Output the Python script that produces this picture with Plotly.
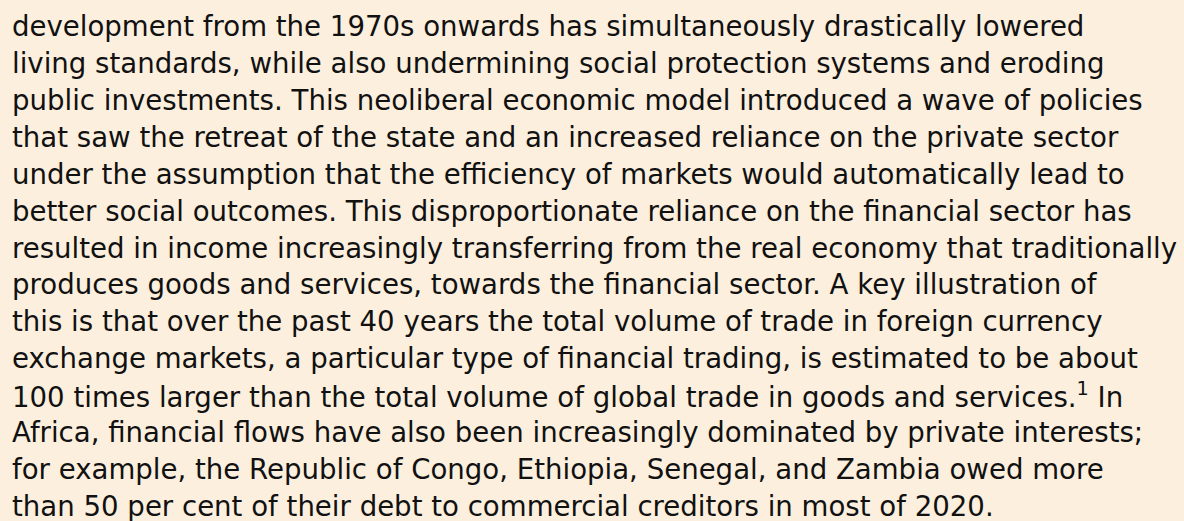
import plotly.graph_objects as go

lines = [
    "development from the 1970s onwards has simultaneously drastically lowered",
    "living standards, while also undermining social protection systems and eroding",
    "public investments. This neoliberal economic model introduced a wave of policies",
    "that saw the retreat of the state and an increased reliance on the private sector",
    "under the assumption that the efficiency of markets would automatically lead to",
    "better social outcomes. This disproportionate reliance on the financial sector has",
    "resulted in income increasingly transferring from the real economy that traditionally",
    "produces goods and services, towards the financial sector. A key illustration of",
    "this is that over the past 40 years the total volume of trade in foreign currency",
    "exchange markets, a particular type of financial trading, is estimated to be about",
    "100 times larger than the total volume of global trade in goods and services.<sup>1</sup> In",
    "Africa, financial flows have also been increasingly dominated by private interests;",
    "for example, the Republic of Congo, Ethiopia, Senegal, and Zambia owed more",
    "than 50 per cent of their debt to commercial creditors in most of 2020.",
]

W, H = 1184, 521
fig = go.Figure()
top, step = 27, 36.85
for i, t in enumerate(lines):
    fig.add_annotation(
        x=10 / W, y=1 - (top + i * step) / H, xref="paper", yref="paper",
        text=t, showarrow=False, xanchor="left", yanchor="middle",
        font=dict(family="DejaVu Sans", size=27.6, color="#111111"),
    )
fig.update_layout(
    width=W, height=H, margin=dict(l=0, r=0, t=0, b=0),
    paper_bgcolor="#FCEFDE", plot_bgcolor="#FCEFDE",
    xaxis=dict(visible=False), yaxis=dict(visible=False),
    showlegend=False,
)
fig.write_html(
    "out.html",
    config={"displayModeBar": False},
    post_script="document.body.style.margin='0';document.body.style.background='#FCEFDE';",
)
